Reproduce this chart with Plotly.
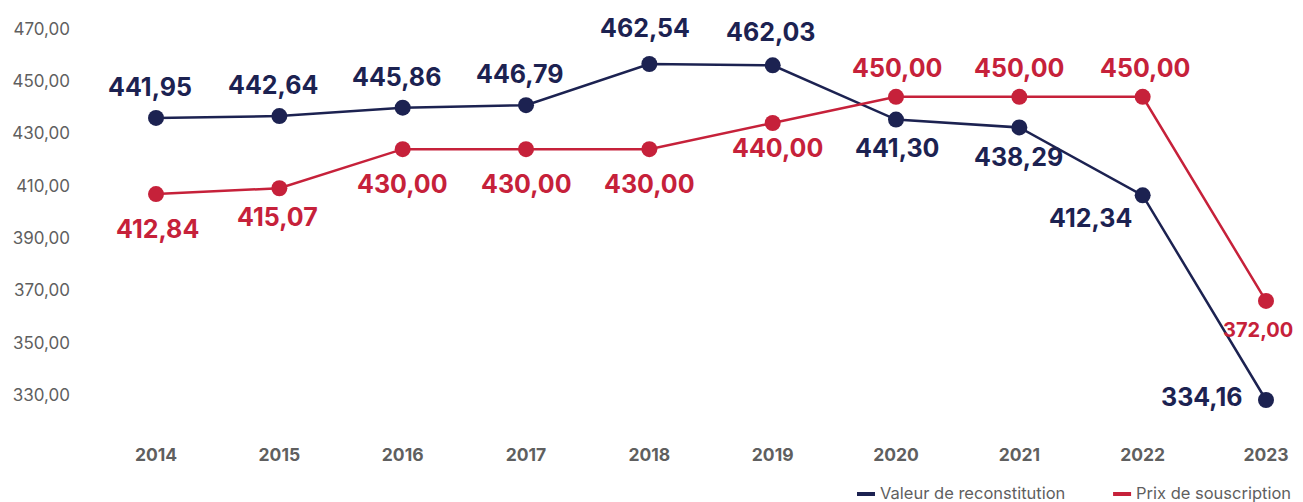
import plotly.graph_objects as go

# --- data ---
YEARS = [2014, 2015, 2016, 2017, 2018, 2019, 2020, 2021, 2022, 2023]
VALEUR_RECONSTITUTION = [441.95, 442.64, 445.86, 446.79, 462.54, 462.03, 441.30, 438.29, 412.34, 334.16]
PRIX_SOUSCRIPTION = [412.84, 415.07, 430.00, 430.00, 430.00, 440.00, 450.00, 450.00, 450.00, 372.00]
Y_TICK_LABELS = [470, 450, 430, 410, 390, 370, 350, 330]
SERIES = ["Valeur de reconstitution", "Prix de souscription"]

NAVY = "#1c2251"
RED = "#c6213a"
GREY = "#5f5f5f"
FONT = "Inter"

# the source chart's axis labels sit ~6 units below the plotted values
AXIS_OFFSET = 6


def fr(v):
    return f"{v:,.2f}".replace(",", " ").replace(".", ",")


fig = go.Figure()

for name, vals, color in [(SERIES[0], VALEUR_RECONSTITUTION, NAVY), (SERIES[1], PRIX_SOUSCRIPTION, RED)]:
    fig.add_trace(go.Scatter(
        x=YEARS, y=vals, mode="lines+markers", name=name,
        line=dict(color=color, width=2.5),
        marker=dict(color=color, size=16),
        showlegend=False,
    ))

# label placement: (xshift, yshift, xanchor, size)
navy_pos = [(-6, 31, "center", 25)] * 4 + [(-4, 36, "center", 25), (-2, 33, "center", 25),
            (1, -28, "center", 25), (-1, -30, "center", 25), (-52, -23, "center", 25),
            (-22, 3, "right", 25)]
red_pos = [(1, -35, "center", 25), (-2, -29, "center", 25), (0, -35, "center", 25),
           (0, -35, "center", 25), (0, -35, "center", 25), (5, -25, "center", 25),
           (1, 29, "center", 25), (0, 29, "center", 25), (2, 29, "center", 25),
           (-8, -29, "center", 20)]

annotations = []
for vals, pos, color in [(VALEUR_RECONSTITUTION, navy_pos, NAVY), (PRIX_SOUSCRIPTION, red_pos, RED)]:
    for yr, v, (dx, dy, xa, sz) in zip(YEARS, vals, pos):
        annotations.append(dict(
            x=yr, y=v, xref="x", yref="y", text=fr(v), showarrow=False,
            xshift=dx, yshift=dy, xanchor=xa, yanchor="middle",
            font=dict(family=FONT, size=sz, color=color, weight="bold"),
        ))

# hand-made legend (short bars + text) in the bottom right corner
shapes = []
for name, color, bx in [(SERIES[0], NAVY, 0.6311), (SERIES[1], RED, 0.8429)]:
    shapes.append(dict(type="rect", xref="paper", yref="paper",
                       x0=bx, x1=bx + 0.0149, y0=-0.1571, y1=-0.1476,
                       fillcolor=color, line=dict(width=0)))
    annotations.append(dict(x=bx + 0.0174, y=-0.15, xref="paper", yref="paper",
                            text=name, showarrow=False, xanchor="left", yanchor="middle",
                            font=dict(family=FONT, size=16.5, color=GREY)))

# page body adds an 8px margin, so the figure is 8px smaller on each side
fig.update_layout(
    width=1295, height=494,
    margin=dict(l=86, r=0, t=2, b=72),
    paper_bgcolor="white", plot_bgcolor="white",
    font=dict(family=FONT, color=GREY),
    annotations=annotations,
    shapes=shapes,
    showlegend=False,
    xaxis=dict(
        range=[2013.497, 2023.30],
        tickvals=YEARS, ticktext=[str(y) for y in YEARS],
        showgrid=False, zeroline=False, showline=False,
        tickfont=dict(family=FONT, size=17.5, color=GREY, weight="bold"),
        ticklabelstandoff=12,
    ),
    yaxis=dict(
        range=[322.69, 483.17],
        tickvals=[t + AXIS_OFFSET for t in Y_TICK_LABELS],
        ticktext=[fr(t) for t in Y_TICK_LABELS],
        showgrid=False, zeroline=False, showline=False,
        tickfont=dict(family=FONT, size=17, color=GREY),
        ticklabelstandoff=23,
    ),
)

fig.write_html("out.html")
